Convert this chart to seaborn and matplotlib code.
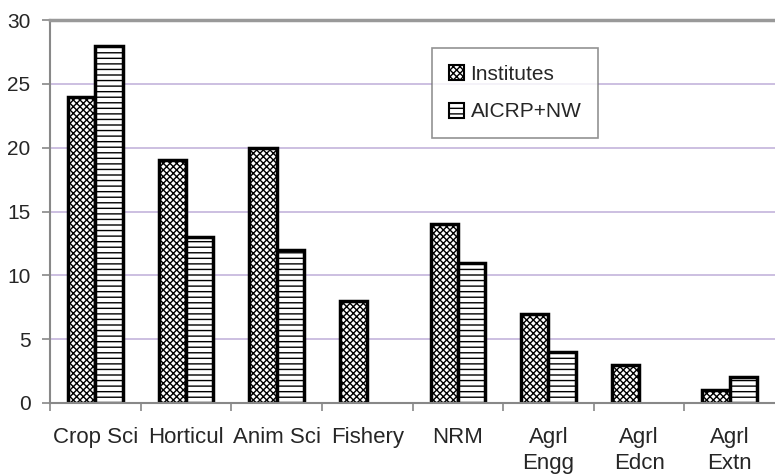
import numpy as np
import pandas as pd
import matplotlib
matplotlib.use("Agg")
import matplotlib.pyplot as plt
import seaborn as sns
from matplotlib.patches import Patch

# ==============================
# DATA
# ==============================
categories = ["Crop Sci", "Horticul", "Anim Sci", "Fishery", "NRM",
              "Agrl\nEngg", "Agrl\nEdcn", "Agrl\nExtn"]
institutes = [24, 19, 20, 8, 14, 7, 3, 1]
aicrp_nw = [28, 13, 12, 0, 11, 4, 0, 2]
series_names = ["Institutes", "AICRP+NW"]
y_ticks = [0, 5, 10, 15, 20, 25, 30]

df = pd.DataFrame({
    "category": categories * 2,
    "value": institutes + aicrp_nw,
    "series": [series_names[0]] * len(categories) + [series_names[1]] * len(categories),
})

# ==============================
# PLOT
# ==============================
sns.set_style("white")
plt.rcParams["font.family"] = ["Liberation Sans", "DejaVu Sans"]
plt.rcParams["hatch.linewidth"] = 1.0

fig = plt.figure(figsize=(7.75, 4.75), dpi=100)
ax = fig.add_axes([50 / 775, 72 / 475, 725 / 775, 383 / 475])

sns.barplot(data=df, x="category", y="value", hue="series", order=categories,
            hue_order=series_names, width=0.6, gap=0, palette=["white", "white"],
            edgecolor="black", linewidth=2.5, legend=False, ax=ax)

hatches = ["xxxxx", "---"]
for i, container in enumerate(ax.containers):
    for bar in container:
        bar.set_hatch(hatches[i])
        if bar.get_height() == 0:
            bar.set_visible(False)

ax.set_ylim(0, 30)
ax.set_yticks(y_ticks)
ax.set_xlim(-0.5, len(categories) - 0.5)
ax.yaxis.grid(True, color="#c4b4dc", linewidth=1.2)
ax.set_axisbelow(True)

ax.spines["right"].set_visible(False)
ax.spines["top"].set_color("#999999")
ax.spines["top"].set_linewidth(2.5)
ax.spines["left"].set_color("#888888")
ax.spines["left"].set_linewidth(1.5)
ax.spines["bottom"].set_color("#888888")
ax.spines["bottom"].set_linewidth(1.5)

ax.set_xticks(np.arange(len(categories)))
ax.set_xticklabels(categories, fontsize=16, linespacing=1.35, va="top")
ax.set_xticks(np.arange(len(categories)) - 0.5, minor=True)
ax.tick_params(axis="x", which="major", length=0, pad=17)
ax.tick_params(axis="x", which="minor", length=6, width=1.2, color="#888888", direction="out")
ax.tick_params(axis="y", length=6, width=1.2, color="#888888", direction="out",
               labelsize=15, pad=8)
ax.tick_params(axis="both", bottom=True, left=True, which="both")
ax.set_xlabel("")
ax.set_ylabel("")

handles = [Patch(facecolor="white", edgecolor="black", hatch=h, linewidth=1.5)
           for h in hatches]
leg = ax.legend(handles, series_names, loc="upper left",
                bbox_to_anchor=((432 - 50) / 725, (403 - 48) / 383),
                fontsize=15, frameon=True, fancybox=False, edgecolor="#777777",
                handlelength=0.75, handleheight=0.75, handletextpad=0.3,
                borderpad=0.8, labelspacing=0.9, borderaxespad=0)
leg.get_frame().set_linewidth(1.2)

fig.savefig("out.png", dpi=100)
